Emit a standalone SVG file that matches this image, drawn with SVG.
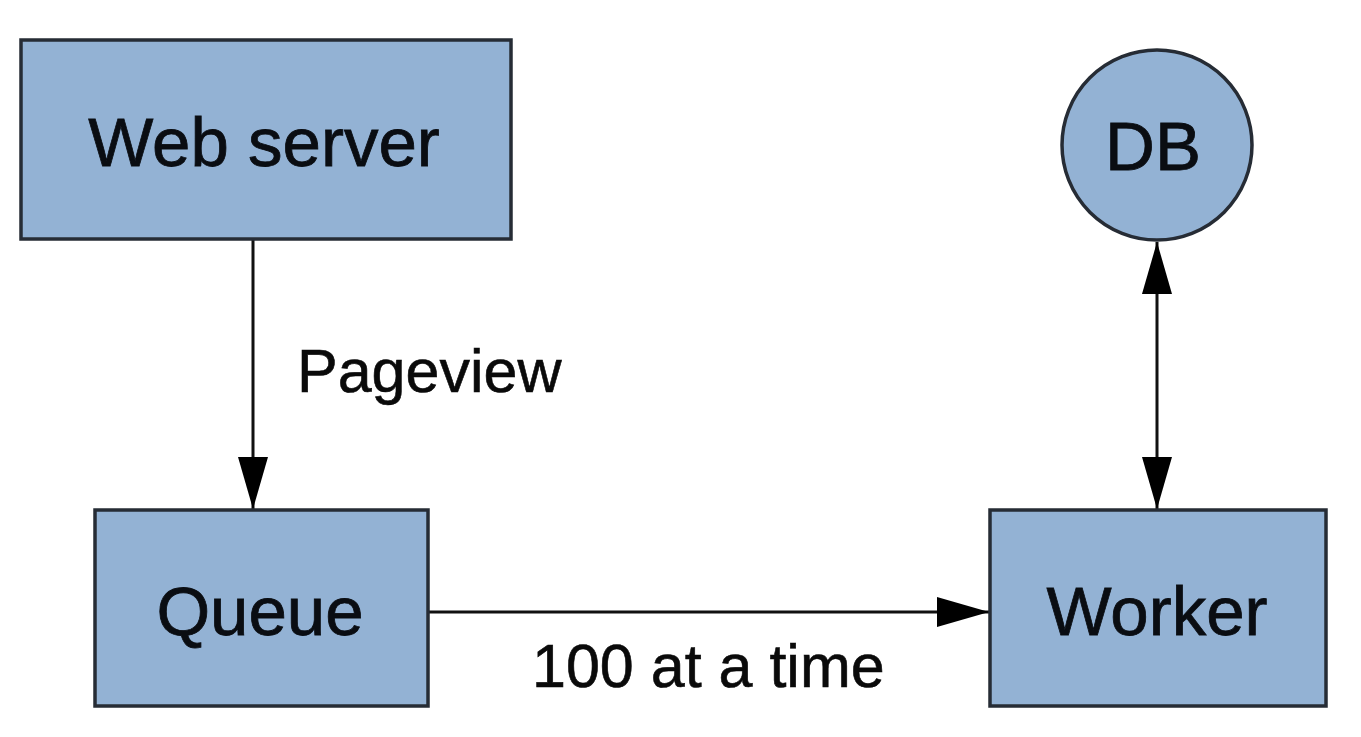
<svg xmlns="http://www.w3.org/2000/svg" width="1361" height="737" viewBox="0 0 1361 737">
<defs>
<style>
.box{fill:#93b2d4;stroke:#262c35;stroke-width:3.5}
.lbl{font-family:"Liberation Sans",Arial,sans-serif;font-size:69px;fill:#0a0d12;stroke:#0a0d12;stroke-width:0.8;text-anchor:middle}
.elbl{font-family:"Liberation Sans",Arial,sans-serif;font-size:61px;fill:#0a0a0a;stroke:#0a0a0a;stroke-width:0.6}
.edge{stroke:#111;stroke-width:3;fill:none}
</style>
<marker id="ah" viewBox="0 0 52 30" refX="52" refY="15" markerWidth="52" markerHeight="30" markerUnits="userSpaceOnUse" orient="auto-start-reverse">
<path d="M0,0 L52,15 L0,30 Z" fill="#000"/>
</marker>
</defs>
<rect width="1361" height="737" fill="#fff"/>
<g id="connectors">
<line class="edge" x1="253" y1="240" x2="253" y2="509" marker-end="url(#ah)"/>
<line class="edge" x1="429" y1="612" x2="989" y2="612" marker-end="url(#ah)"/>
<line class="edge" x1="1157" y1="242" x2="1157" y2="509" marker-start="url(#ah)" marker-end="url(#ah)"/>
<text class="elbl" x="297" y="392">Pageview</text>
<text class="elbl" x="532" y="687">100 at a time</text>
</g>
<g id="web-server">
<rect class="box" x="21" y="40" width="490" height="199"/>
<text class="lbl" x="264" y="166">Web server</text>
</g>
<g id="db">
<circle class="box" cx="1157" cy="145" r="95"/>
<text class="lbl" x="1153" y="170">DB</text>
</g>
<g id="queue">
<rect class="box" x="95" y="510" width="333" height="196"/>
<text class="lbl" x="260" y="635">Queue</text>
</g>
<g id="worker">
<rect class="box" x="990" y="510" width="336" height="196"/>
<text class="lbl" x="1157" y="635">Worker</text>
</g>
</svg>
